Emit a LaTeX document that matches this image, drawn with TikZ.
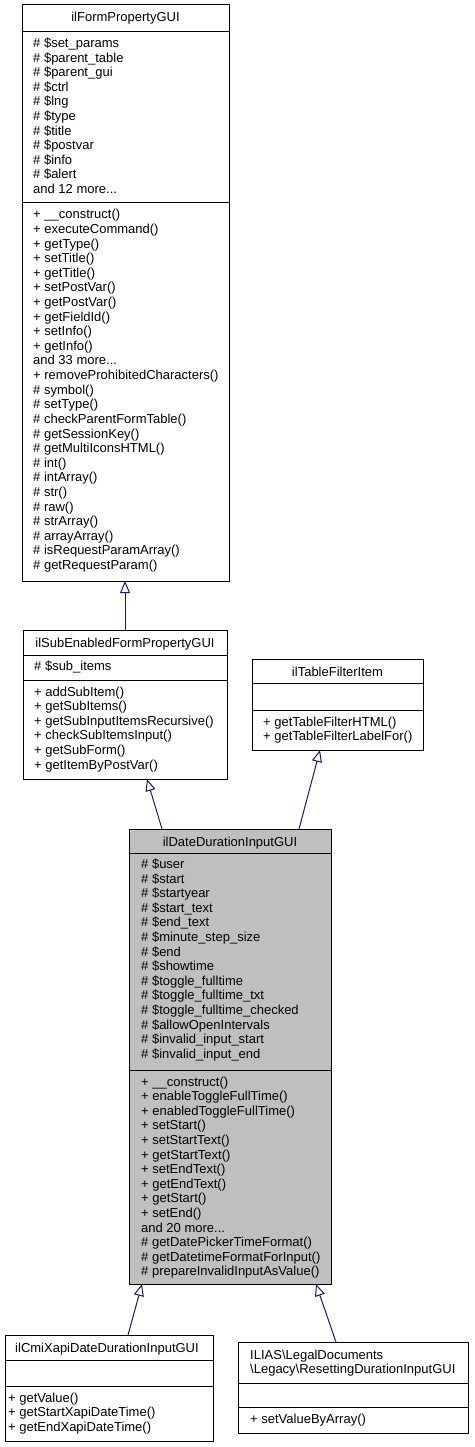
\documentclass[tikz,border=0pt]{standalone}
\usepackage{fontspec}
\setmainfont{Liberation Sans}
\usetikzlibrary{arrows.meta,calc}
\definecolor{edgeblue}{RGB}{25,25,112}
\definecolor{boxgray}{RGB}{191,191,191}
\newcommand{\memberlines}[1]{\begin{tabular}[t]{@{}l@{}}#1\end{tabular}}
\begin{document}
\begin{tikzpicture}[x=1pt,y=-1pt,
  classbox/.style={draw=black,line width=1pt,fill=white,inner sep=0pt,outer sep=0pt,anchor=north west},
  divider/.style={draw=black,line width=1pt},
  member/.style={anchor=base west,inner sep=0pt,font=\fontsize{13pt}{14.6pt}\selectfont},
  ctitle/.style={anchor=base,inner sep=0pt,font=\fontsize{13pt}{14.6pt}\selectfont},
  inh/.style={draw=edgeblue,line width=1pt,-{Triangle[open,length=12pt,width=10pt]}}]
\path[use as bounding box,fill=white] (0,0) rectangle (474,1447);

% ---- ilFormPropertyGUI
\node[classbox,minimum width=207pt,minimum height=576pt] (b1) at (22,5) {};
\draw[divider] ($(b1.north west)+(0,27)$) -- ($(b1.north east)+(0,27)$);
\draw[divider] ($(b1.north west)+(0,198)$) -- ($(b1.north east)+(0,198)$);
\node[ctitle] (b1t) at (125.5,22) {ilFormPropertyGUI};
\node[member] (b1a) at (33,47.5) {\memberlines{\# \$set\_params\\ \# \$parent\_table\\ \# \$parent\_gui\\ \# \$ctrl\\ \# \$lng\\ \# \$type\\ \# \$title\\ \# \$postvar\\ \# \$info\\ \# \$alert\\ and 12 more...}};
\node[member] (b1m) at (33,219) {\memberlines{+ \_\_construct()\\ + executeCommand()\\ + getType()\\ + setTitle()\\ + getTitle()\\ + setPostVar()\\ + getPostVar()\\ + getFieldId()\\ + setInfo()\\ + getInfo()\\ and 33 more...\\ + removeProhibitedCharacters()\\ \# symbol()\\ \# setType()\\ \# checkParentFormTable()\\ \# getSessionKey()\\ \# getMultiIconsHTML()\\ \# int()\\ \# intArray()\\ \# str()\\ \# raw()\\ \# strArray()\\ \# arrayArray()\\ \# isRequestParamArray()\\ \# getRequestParam()}};

% ---- ilSubEnabledFormPropertyGUI
\node[classbox,minimum width=204pt,minimum height=149pt] (b2) at (23,630) {};
\draw[divider] ($(b2.north west)+(0,25)$) -- ($(b2.north east)+(0,25)$);
\draw[divider] ($(b2.north west)+(0,50)$) -- ($(b2.north east)+(0,50)$);
\node[ctitle] (b2t) at (125,647) {ilSubEnabledFormPropertyGUI};
\node[member] (b2a) at (34,670.5) {\memberlines{\# \$sub\_items}};
\node[member] (b2m) at (34,696) {\memberlines{+ addSubItem()\\ + getSubItems()\\ + getSubInputItemsRecursive()\\ + checkSubItemsInput()\\ + getSubForm()\\ + getItemByPostVar()}};

% ---- ilTableFilterItem
\node[classbox,minimum width=171pt,minimum height=91pt] (b3) at (252,659) {};
\draw[divider] ($(b3.north west)+(0,24)$) -- ($(b3.north east)+(0,24)$);
\draw[divider] ($(b3.north west)+(0,51)$) -- ($(b3.north east)+(0,51)$);
\node[ctitle] (b3t) at (337.5,676) {ilTableFilterItem};
\node[member] (b3m) at (263,726) {\memberlines{+ getTableFilterHTML()\\ + getTableFilterLabelFor()}};

% ---- ilDateDurationInputGUI
\node[classbox,fill=boxgray,minimum width=202pt,minimum height=455pt] (b4) at (129,829) {};
\draw[divider] ($(b4.north west)+(0,24)$) -- ($(b4.north east)+(0,24)$);
\draw[divider] ($(b4.north west)+(0,241)$) -- ($(b4.north east)+(0,241)$);
\node[ctitle] (b4t) at (230,846) {ilDateDurationInputGUI};
\node[member] (b4a) at (141,868.5) {\memberlines{\# \$user\\ \# \$start\\ \# \$startyear\\ \# \$start\_text\\ \# \$end\_text\\ \# \$minute\_step\_size\\ \# \$end\\ \# \$showtime\\ \# \$toggle\_fulltime\\ \# \$toggle\_fulltime\_txt\\ \# \$toggle\_fulltime\_checked\\ \# \$allowOpenIntervals\\ \# \$invalid\_input\_start\\ \# \$invalid\_input\_end}};
\node[member] (b4m) at (141,1086) {\memberlines{+ \_\_construct()\\ + enableToggleFullTime()\\ + enabledToggleFullTime()\\ + setStart()\\ + setStartText()\\ + getStartText()\\ + setEndText()\\ + getEndText()\\ + getStart()\\ + setEnd()\\ and 20 more...\\ \# getDatePickerTimeFormat()\\ \# getDatetimeFormatForInput()\\ \# prepareInvalidInputAsValue()}};

% ---- ilCmiXapiDateDurationInputGUI
\node[classbox,minimum width=208pt,minimum height=106pt] (b5) at (5,1335) {};
\draw[divider] ($(b5.north west)+(0,25)$) -- ($(b5.north east)+(0,25)$);
\draw[divider] ($(b5.north west)+(0,51)$) -- ($(b5.north east)+(0,51)$);
\node[ctitle] (b5t) at (107,1352) {ilCmiXapiDateDurationInputGUI};
\node[member] (b5m) at (8,1402) {\memberlines{+ getValue()\\ + getStartXapiDateTime()\\ + getEndXapiDateTime()}};

% ---- ILIAS\LegalDocuments\Legacy\ResettingDurationInputGUI
\node[classbox,minimum width=230pt,minimum height=91pt] (b6) at (238,1342) {};
\draw[divider] ($(b6.north west)+(0,41)$) -- ($(b6.north east)+(0,41)$);
\draw[divider] ($(b6.north west)+(0,65)$) -- ($(b6.north east)+(0,65)$);
\node[member] (b6t) at (250,1359) {\memberlines{ILIAS\textbackslash LegalDocuments\\ \textbackslash Legacy\textbackslash ResettingDurationInputGUI}};
\node[member] (b6m) at (250,1423) {\memberlines{+ setValueByArray()}};

% ---- inheritance arrows
\draw[inh] ($(b2.north west)+(102,0)$) -- ($(b1.south west)+(103,0)$);
\draw[inh] ($(b4.north west)+(33,0)$) -- ($(b2.south west)+(124,0)$);
\draw[inh] ($(b4.north west)+(170,0)$) -- ($(b3.south west)+(68,0)$);
\draw[inh] ($(b5.north west)+(123,0)$) -- ($(b4.south west)+(13,0)$);
\draw[inh] ($(b6.north west)+(98,0)$) -- ($(b4.south west)+(187,0)$);
\end{tikzpicture}
\end{document}
